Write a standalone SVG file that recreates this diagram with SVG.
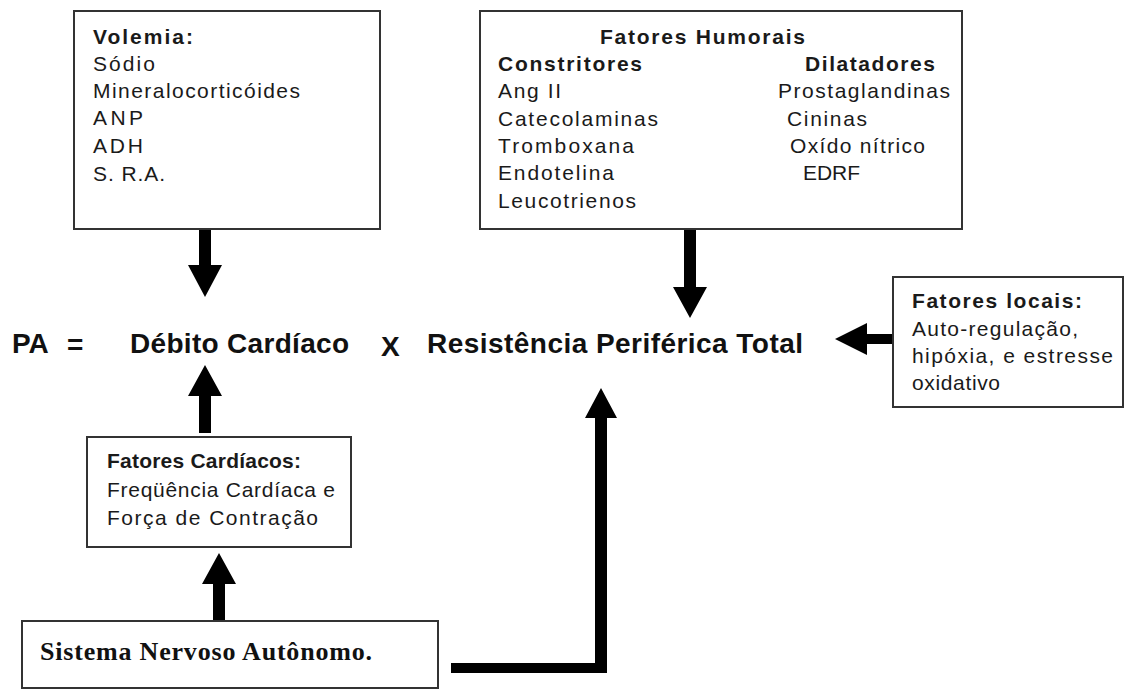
<svg xmlns="http://www.w3.org/2000/svg" width="1133" height="690" viewBox="0 0 1133 690">
<style>
.box{fill:#fff;stroke:#333;stroke-width:2}
.t{font-family:"Liberation Sans",Arial,sans-serif;font-size:21px;fill:#1a1a1a}
.b{font-weight:bold}
.main{font-family:"Liberation Sans",Arial,sans-serif;font-size:28px;font-weight:bold;fill:#111}
.arrow{fill:#000}
</style>
<rect width="1133" height="690" fill="#fff"/>
<g id="connectors">
<polygon class="arrow" points="199,229 211,229 211,265 222,265 205,297 188,265 199,265"/>
<polygon class="arrow" points="684,229 696,229 696,287 707,287 690,318 673,287 684,287"/>
<polygon class="arrow" points="893,334 893,344 867,344 867,355 835,339 867,323 867,334"/>
<polygon class="arrow" points="199,433 211,433 211,396 222,396 205,365 188,396 199,396"/>
<polygon class="arrow" points="213,620 225,620 225,584 236,584 219,553 202,584 213,584"/>
<polygon class="arrow" points="451,663 595,663 595,418 585,418 601,388 617,418 607,418 607,673 451,673"/>
</g>
<g id="volemia">
<rect class="box" x="74" y="11" width="306" height="218"/>
<text class="t b" x="93" y="44" textLength="100">Volemia:</text>
<text class="t" x="93" y="71" textLength="62">Sódio</text>
<text class="t" x="93" y="98" textLength="207">Mineralocorticóides</text>
<text class="t" x="93" y="125" textLength="50">ANP</text>
<text class="t" x="93" y="153" textLength="50">ADH</text>
<text class="t" x="93" y="181" textLength="72">S. R.A.</text>
</g>
<g id="humorais">
<rect class="box" x="480" y="11" width="482" height="218"/>
<text class="t b" x="600" y="44" textLength="205">Fatores Humorais</text>
<text class="t b" x="498" y="71" textLength="144">Constritores</text>
<text class="t b" x="805" y="71" textLength="130">Dilatadores</text>
<text class="t" x="498" y="98" textLength="63">Ang II</text>
<text class="t" x="498" y="126" textLength="160">Catecolaminas</text>
<text class="t" x="498" y="153" textLength="136">Tromboxana</text>
<text class="t" x="498" y="180" textLength="116">Endotelina</text>
<text class="t" x="498" y="208" textLength="138">Leucotrienos</text>
<text class="t" x="778" y="98" textLength="172">Prostaglandinas</text>
<text class="t" x="787" y="126" textLength="80">Cininas</text>
<text class="t" x="790" y="153" textLength="135">Oxído nítrico</text>
<text class="t" x="803" y="180" textLength="57">EDRF</text>
</g>
<g id="equation">
<text class="main" x="12" y="353">PA</text>
<text class="main" x="67" y="354" font-size="31">=</text>
<text class="main" x="130" y="353" textLength="219">Débito Cardíaco</text>
<text class="main" x="381" y="356" font-weight="normal">X</text>
<text class="main" x="427" y="353" textLength="376">Resistência Periférica Total</text>
</g>
<g id="locais">
<rect class="box" x="893" y="277" width="230" height="130"/>
<text class="t b" x="912" y="308" textLength="170">Fatores locais:</text>
<text class="t" x="912" y="336" textLength="166">Auto-regulação,</text>
<text class="t" x="912" y="363" textLength="201">hipóxia, e estresse</text>
<text class="t" x="912" y="390" textLength="88">oxidativo</text>
</g>
<g id="cardiacos">
<rect class="box" x="87" y="437" width="264" height="110"/>
<text class="t b" x="107" y="468" textLength="194">Fatores Cardíacos:</text>
<text class="t" x="107" y="497" textLength="228">Freqüência Cardíaca e</text>
<text class="t" x="107" y="525" textLength="211">Força de Contração</text>
</g>
<g id="sna">
<rect class="box" x="22" y="621" width="416" height="67"/>
<text x="40" y="660" textLength="332" style="font-family:'Liberation Serif','Times New Roman',serif;font-size:26px;font-weight:bold;fill:#111">Sistema Nervoso Autônomo.</text>
</g>
</svg>
